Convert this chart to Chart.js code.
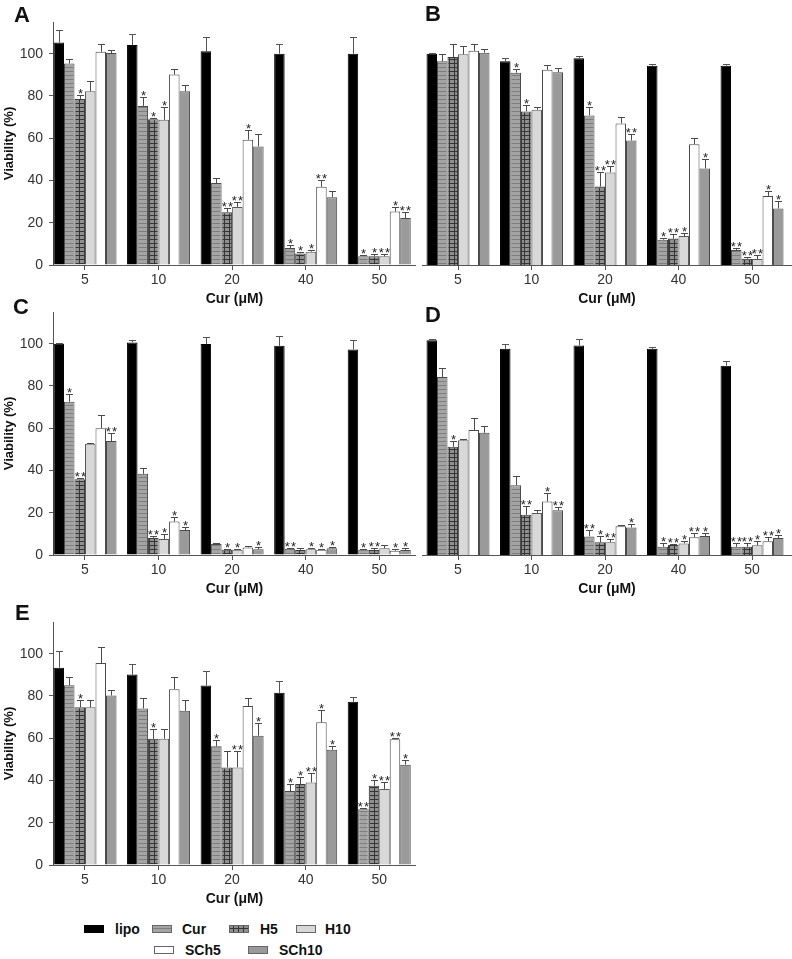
<!DOCTYPE html>
<html><head><meta charset="utf-8">
<script src="https://cdn.jsdelivr.net/npm/chart.js@4.4.1/dist/chart.umd.min.js"></script>
<style>
body{margin:0;background:#fff;width:792px;height:959px;position:relative;overflow:hidden;font-family:"Liberation Sans",Arial,sans-serif;}
canvas{position:absolute;}
.plbl{position:absolute;font-weight:bold;font-size:22px;line-height:22px;color:#111;}
.leg{position:absolute;font-weight:bold;font-size:14px;line-height:16px;color:#111;white-space:nowrap;}
.sw{position:absolute;}
</style></head><body>
<canvas id="cA"></canvas><canvas id="cB"></canvas><canvas id="cC"></canvas><canvas id="cD"></canvas><canvas id="cE"></canvas>
<div class="plbl" style="left:14px;top:4px">A</div>
<div class="plbl" style="left:425px;top:3px">B</div>
<div class="plbl" style="left:13px;top:296px">C</div>
<div class="plbl" style="left:425px;top:304px">D</div>
<div class="plbl" style="left:15px;top:602px">E</div>
<div id="legend"></div>
<script>
// ---- categories / series ----
const categories = ['5', '10', '20', '40', '50'];
const seriesNames = ['lipo', 'Cur', 'H5', 'H10', 'SCh5', 'SCh10'];
const yTicks = [0, 20, 40, 60, 80, 100];

// rows: lipo, Cur, H5, H10, SCh5, SCh10 ; columns: 5,10,20,40,50 µM
// ---- Panel A ----
const A_mean = [
  [105.3, 104.1, 101.1, 100, 100],
  [95.4, 75.3, 38.8, 8, 4.2],
  [78.6, 69, 25, 5.5, 4.1],
  [82.2, 68.7, 27.5, 6.3, 4.1],
  [100.9, 90.1, 59.3, 37, 25.3],
  [100.3, 82.2, 56.1, 32.1, 22.2]
];
const A_err = [
  [6, 5.2, 7, 4.6, 8],
  [2, 4, 2.4, 1.7, 0.5],
  [2, 0.5, 2, 0.5, 1.2],
  [5, 6, 2.4, 0.7, 1.2],
  [3.7, 2.8, 4.4, 3.1, 2.2],
  [1.6, 3, 6, 3, 3.1]
];
const A_sig = [
  ['', '', '', '', ''],
  ['', '*', '', '*', '*'],
  ['*', '*', '**', '*', '*'],
  ['', '*', '**', '*', '**'],
  ['', '', '*', '**', '*'],
  ['', '', '', '', '**']
];
// ---- Panel B ----
const B_mean = [
  [100, 96.4, 97.9, 94.3, 94.3],
  [96.4, 91, 70.8, 12, 7.1],
  [98.4, 72.7, 37.1, 12.5, 3],
  [99.7, 73.5, 43.8, 13.7, 2.8],
  [101.4, 92.4, 67, 57.2, 32.7],
  [100.5, 91.2, 58.9, 45.7, 26.7]
];
const B_err = [
  [0.5, 1.7, 1, 1, 1],
  [3.6, 1.9, 4.2, 0.8, 1],
  [6.3, 3.1, 7, 2.2, 0.6],
  [4, 1.5, 3.1, 1.5, 2.1],
  [3.3, 2.2, 3, 3, 2.2],
  [1.5, 1.8, 3, 4.5, 3.5]
];
const B_sig = [
  ['', '', '', '', ''],
  ['', '*', '*', '*', '**'],
  ['', '*', '**', '**', '**'],
  ['', '', '**', '*', '**'],
  ['', '', '', '', '*'],
  ['', '', '**', '*', '*']
];
// ---- Panel C ----
const C_mean = [
  [100, 100.6, 99.8, 99, 97.3],
  [72.5, 38.4, 5.2, 3, 2.5],
  [35.9, 8.1, 2.5, 2.4, 2.4],
  [52.6, 7.6, 2.5, 2.7, 3.2],
  [60, 15.8, 3.6, 2.5, 2],
  [53.9, 11.8, 2.7, 3.2, 2.4]
];
const C_err = [
  [0.3, 1, 3.4, 4.5, 4.6],
  [3.6, 3, 0.3, 0.3, 0.2],
  [0.5, 1.1, 0.5, 0.8, 0.8],
  [0.6, 2.2, 0.5, 0.8, 1.4],
  [6.2, 2.1, 0.7, 0.3, 0.7],
  [3.8, 1.5, 1.1, 0.4, 1.1]
];
const C_sig = [
  ['', '', '', '', ''],
  ['*', '', '', '**', '*'],
  ['**', '**', '*', '', '**'],
  ['', '*', '*', '*', ''],
  ['', '*', '', '*', '*'],
  ['**', '*', '*', '*', '*']
];
// ---- Panel D ----
const D_mean = [
  [101.6, 97.6, 99.2, 97.6, 89.6],
  [84.2, 33, 8.8, 3.9, 3.9],
  [51.2, 19, 6, 4.7, 3.9],
  [54.3, 19.9, 6, 5.5, 4.6],
  [59.1, 25.3, 13.6, 8.4, 6.5],
  [57.8, 21.2, 13, 9, 8.1]
];
const D_err = [
  [0.8, 2.2, 3, 0.7, 2.2],
  [4.3, 4.3, 3, 1.6, 1.6],
  [2.7, 4.4, 2.8, 0.4, 1.6],
  [0.6, 1.6, 1.4, 1, 2.2],
  [5.7, 3.9, 0.5, 2.2, 2],
  [3.2, 1.4, 1.5, 1.6, 1.2]
];
const D_sig = [
  ['', '', '', '', ''],
  ['', '', '**', '*', '**'],
  ['*', '**', '*', '**', '**'],
  ['', '', '**', '*', '*'],
  ['', '*', '', '**', '**'],
  ['', '**', '*', '*', '*']
];
// ---- Panel E ----
const E_mean = [
  [93.4, 90.1, 84.9, 81.5, 77.2],
  [85.1, 74.1, 56.2, 35, 26.4],
  [74.7, 59.7, 46.2, 38.3, 37.5],
  [74.7, 59.7, 46.2, 39.1, 36],
  [95.6, 83.2, 75.2, 67.5, 59.5],
  [80.2, 73, 61.2, 54.5, 47.5]
];
const E_err = [
  [7.9, 4.9, 6.8, 5.5, 2.3],
  [3.8, 4.7, 2.8, 3.1, 0.6],
  [3.6, 4.7, 7.8, 3.5, 2.5],
  [3.6, 4.7, 7.8, 4.5, 3.4],
  [7.5, 5.8, 3.6, 5.8, 0.6],
  [2.7, 5.3, 6, 2, 2]
];
const E_sig = [
  ['', '', '', '', ''],
  ['', '', '*', '*', '**'],
  ['*', '*', '', '*', '*'],
  ['', '', '**', '**', '**'],
  ['', '', '', '*', '**'],
  ['', '', '*', '*', '*']
];

// ---- styles ----
function makeTile(type) {
  const c = document.createElement('canvas');
  const g = c.getContext('2d');
  if (type === 'stripe') {
    c.width = 4; c.height = 4;
    g.fillStyle = '#a4a4a4'; g.fillRect(0, 0, 4, 4);
    g.fillStyle = '#7e7e7e'; g.fillRect(0, 3, 4, 1);
  } else {
    c.width = 5; c.height = 4;
    g.fillStyle = '#8f8f8f'; g.fillRect(0, 0, 5, 4);
    g.fillStyle = '#353535'; g.fillRect(0, 3, 5, 1); g.fillRect(4, 0, 1, 4);
  }
  return c;
}
const pctx = document.createElement('canvas').getContext('2d');
const fills = ['#000000', pctx.createPattern(makeTile('stripe'), 'repeat'),
  pctx.createPattern(makeTile('grid'), 'repeat'), '#d8d8d8', '#ffffff', '#9a9a9a'];
const borders = ['#000000', '#4a4a4a', '#3a3a3a', '#5a5a5a', '#4a4a4a', '#4a4a4a'];
const FONT = '"Liberation Sans", Arial, sans-serif';

const errPlugin = {
  id: 'errbars',
  afterDatasetsDraw(chart) {
    const ctx = chart.ctx, ys = chart.scales.y;
    chart.data.datasets.forEach((ds, i) => {
      const meta = chart.getDatasetMeta(i);
      meta.data.forEach((bar, j) => {
        const v = ds.data[j].y, e = ds.errors[j];
        const x = Math.round(bar.x) + 0.5;
        const yTop = bar.y, yE = Math.round(ys.getPixelForValue(v + e)) + 0.5;
        ctx.save();
        ctx.strokeStyle = i === 0 ? '#555' : '#4a4a4a';
        ctx.lineWidth = 1;
        ctx.beginPath();
        ctx.moveTo(x, yTop); ctx.lineTo(x, yE);
        ctx.moveTo(x - 3.5, yE); ctx.lineTo(x + 3.5, yE);
        ctx.stroke();
        const s = ds.sigs[j];
        if (s) {
          ctx.fillStyle = '#222';
          ctx.font = '13px ' + FONT;
          ctx.textAlign = 'center';
          ctx.textBaseline = 'alphabetic';
          if (s === '*') ctx.fillText('*', x, yE + 2);
          else { ctx.fillText('*', x - 3.1, yE + 2); ctx.fillText('*', x + 3.1, yE + 2); }
        }
        ctx.restore();
      });
    });
  }
};

function buildDatasets(means, errs, sigs) {
  return seriesNames.map((name, i) => ({
    label: name,
    data: means[i].map((v, j) => ({ x: j, y: v })),
    errors: errs[i],
    sigs: sigs[i],
    backgroundColor: fills[i],
    borderColor: borders[i],
    borderWidth: 1,
    borderSkipped: 'bottom',
    barPercentage: 1,
    categoryPercentage: 0.857
  }));
}

function makePanel(id, left, top, width, height, padLeft, showY, xmin, xmax, means, errs, sigs) {
  const cv = document.getElementById(id);
  cv.style.left = left + 'px'; cv.style.top = top + 'px';
  cv.width = width; cv.height = height;
  new Chart(cv, {
    type: 'bar',
    data: { datasets: buildDatasets(means, errs, sigs) },
    plugins: [errPlugin],
    options: {
      responsive: false, animation: false, devicePixelRatio: 1,
      layout: { padding: { top: 22, left: padLeft, right: 0, bottom: 0 } },
      plugins: { legend: { display: false }, tooltip: { enabled: false } },
      scales: {
        x: {
          type: 'linear', min: xmin, max: xmax, offset: false,
          afterBuildTicks: s => { s.ticks = categories.map((c, i) => ({ value: i })); },
          afterFit: s => { s.height = 43; },
          grid: { offset: false, drawOnChartArea: false, drawTicks: true, tickLength: 5, color: '#555' },
          border: { display: true, color: '#555', width: 1 },
          ticks: { callback: v => categories[v], autoSkip: false, maxRotation: 0, padding: 2,
            font: { family: FONT, size: 14 }, color: '#333' },
          title: { display: true, text: 'Cur (\u03bcM)', color: '#111',
            font: { family: FONT, size: 14, weight: 'bold' }, padding: { top: 0, bottom: 0 } }
        },
        y: {
          display: showY,
          min: 0, max: 115,
          afterBuildTicks: s => { s.ticks = yTicks.map(v => ({ value: v })); },
          afterFit: s => { s.width = showY ? 53 : 0; },
          grid: { drawOnChartArea: false, drawTicks: true, tickLength: 4, color: '#555' },
          border: { display: true, color: '#555', width: 1 },
          ticks: { padding: 6, font: { family: FONT, size: 14 }, color: '#333' },
          title: { display: true, text: 'Viability (%)', color: '#111',
            font: { family: FONT, size: 13, weight: 'bold' }, padding: { top: 2, bottom: 0 } }
        }
      }
    }
  });
}

makePanel('cA', 0, 0, 416, 308, 0, true, -0.435, 4.5, A_mean, A_err, A_sig);
makePanel('cB', 400, 0, 392, 308, 22, false, -0.49, 4.544, B_mean, B_err, B_sig);
makePanel('cC', 0, 290, 416, 308, 0, true, -0.435, 4.5, C_mean, C_err, C_sig);
makePanel('cD', 400, 290, 392, 308, 22, false, -0.49, 4.544, D_mean, D_err, D_sig);
makePanel('cE', 0, 600, 416, 308, 0, true, -0.435, 4.5, E_mean, E_err, E_sig);

// ---- legend (HTML) ----
const legendPos = [
  { sx: 84, tx: 115, y: 929 }, { sx: 152, tx: 182, y: 929 }, { sx: 229, tx: 260, y: 929 },
  { sx: 296, tx: 325, y: 929 }, { sx: 154, tx: 185, y: 950 }, { sx: 248, tx: 279, y: 950 }
];
const leg = document.getElementById('legend');
seriesNames.forEach((name, i) => {
  const p = legendPos[i];
  const sw = document.createElement('canvas');
  sw.className = 'sw'; sw.width = 20; sw.height = 8;
  sw.style.left = p.sx + 'px'; sw.style.top = (p.y - 4) + 'px';
  const g = sw.getContext('2d');
  g.fillStyle = fills[i]; g.fillRect(0, 0, 20, 8);
  g.strokeStyle = i === 0 ? '#000' : '#666'; g.lineWidth = 1; g.strokeRect(0.5, 0.5, 19, 7);
  leg.appendChild(sw);
  const t = document.createElement('div');
  t.className = 'leg'; t.textContent = name;
  t.style.left = p.tx + 'px'; t.style.top = (p.y - 8) + 'px';
  leg.appendChild(t);
});
</script>
</body></html>
